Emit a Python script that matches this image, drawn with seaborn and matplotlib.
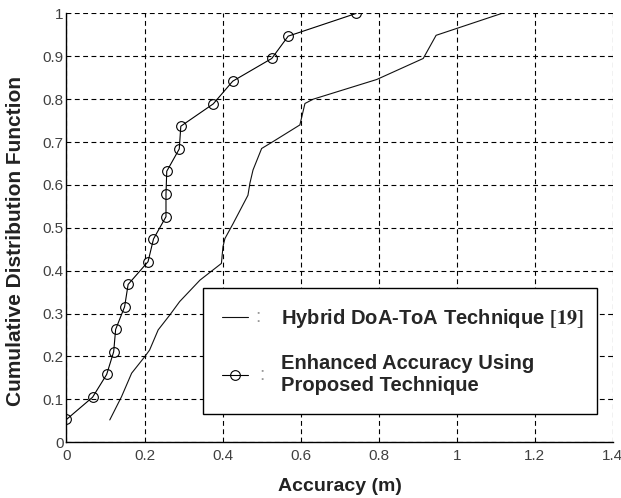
import matplotlib
matplotlib.use("Agg")
import matplotlib.pyplot as plt
import seaborn as sns

# --- values (CDF of localisation error) ---
hybrid_x = [0.111, 0.141, 0.167, 0.201, 0.213, 0.235, 0.265, 0.290, 0.342,
            0.397, 0.401, 0.406, 0.427, 0.465, 0.470, 0.478, 0.500, 0.529,
            0.598, 0.611, 0.632, 0.795, 0.914, 0.947, 1.115]
hybrid_y = [0.052, 0.106, 0.161, 0.200, 0.215, 0.262, 0.297, 0.328, 0.378,
            0.417, 0.456, 0.475, 0.510, 0.576, 0.604, 0.635, 0.685, 0.701,
            0.740, 0.790, 0.800, 0.846, 0.895, 0.949, 1.000]

proposed_x = [0.000, 0.067, 0.103, 0.121, 0.126, 0.149, 0.158, 0.209, 0.223,
              0.255, 0.255, 0.257, 0.289, 0.293, 0.376, 0.426, 0.526, 0.568,
              0.742]
proposed_y = [0.053, 0.105, 0.158, 0.211, 0.263, 0.316, 0.368, 0.421, 0.474,
              0.526, 0.579, 0.632, 0.684, 0.737, 0.789, 0.842, 0.895, 0.947,
              1.000]

x_ticks = [0, 0.2, 0.4, 0.6, 0.8, 1, 1.2, 1.4]
y_ticks = [0, 0.1, 0.2, 0.3, 0.4, 0.5, 0.6, 0.7, 0.8, 0.9, 1]

label_hybrid = "Hybrid DoA-ToA Technique $\\mathbf{[19]}$"
label_proposed = "Enhanced Accuracy Using\nProposed Technique"

sns.set_style("white")
plt.rcParams["font.family"] = ["Liberation Sans", "DejaVu Sans"]
plt.rcParams["mathtext.fontset"] = "stix"
plt.rcParams["lines.scale_dashes"] = False

fig = plt.figure(figsize=(6.21, 4.98), dpi=100)
ax = fig.add_axes([0.107, 0.112, 0.880, 0.861])

sns.lineplot(x=hybrid_x, y=hybrid_y, sort=False, estimator=None,
             color="#111111", lw=0.8, ax=ax, label=label_hybrid)
sns.lineplot(x=proposed_x, y=proposed_y, sort=False, estimator=None,
             color="black", lw=0.8, marker="o", markersize=7,
             markerfacecolor="none", markeredgecolor="black",
             markeredgewidth=0.8, ax=ax, label=label_proposed)

ax.set_xlim(0, 1.4)
ax.set_ylim(0, 1)
ax.set_xticks(x_ticks)
ax.set_yticks(y_ticks)
ax.set_xticklabels([f"{t:g}" for t in x_ticks])
ax.set_yticklabels([f"{t:g}" for t in y_ticks])
ax.tick_params(direction="in", length=4, width=0.8, labelsize=11,
               labelcolor="#404040", color="black")
ax.tick_params(axis="x", pad=5)
ax.tick_params(axis="y", pad=2)

ax.grid(True, color="black", lw=0.8, linestyle=(0, (3.5, 2.5)))
ax.set_axisbelow(False)
for side in ["top", "right"]:
    ax.spines[side].set_visible(False)
for side in ["left", "bottom"]:
    ax.spines[side].set_color("black")
    ax.spines[side].set_linewidth(1.0)

ax.set_xlabel("Accuracy (m)", fontsize=14, fontweight="bold",
              color="#222222", labelpad=11)
ax.set_ylabel("Cumulative Distribution Function", fontsize=15,
              fontweight="bold", color="#222222")
ax.yaxis.label.set_va("center")
ax.yaxis.set_label_coords(-0.094, 0.469)

leg = ax.legend(loc="lower left", bbox_to_anchor=(0.249, 0.065, 0.721, 0.296),
                mode="expand", frameon=True, fancybox=False, shadow=False,
                prop={"weight": "bold", "size": 14.5}, labelcolor="#262626",
                handlelength=1.3, handletextpad=1.65, borderpad=0.95,
                labelspacing=1.2, borderaxespad=0)
leg.get_frame().set_edgecolor("black")
leg.get_frame().set_linewidth(1.0)
leg.get_frame().set_alpha(1)

# colon separator after each legend handle
fig.canvas.draw()
renderer = fig.canvas.get_renderer()
for h in leg.legend_handles:
    bb = h.get_window_extent(renderer)
    ax.annotate(":", xy=(bb.x1, (bb.y0 + bb.y1) / 2), xycoords="figure pixels",
                xytext=(5, 0), textcoords="offset points", ha="left",
                va="center", color="#999999", fontsize=14, zorder=10)

fig.savefig("out.png", dpi=100)
